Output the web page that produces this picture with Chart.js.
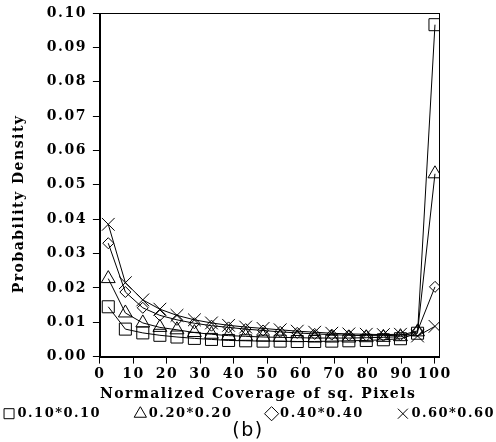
<!DOCTYPE html>
<html>
<head>
<meta charset="utf-8">
<script src="https://cdn.jsdelivr.net/npm/chart.js@4.4.0/dist/chart.umd.min.js"></script>
<style>
  body { margin: 0; background: #fff; }
</style>
</head>
<body>
<canvas id="chart" width="496" height="442"></canvas>
<script>
// normalized coverage positions
const coverage = [2.5, 7.6, 12.8, 17.9, 23.0, 28.2, 33.3, 38.4, 43.5, 48.7,
                  53.8, 58.9, 64.1, 69.2, 74.3, 79.5, 84.6, 89.7, 94.8, 100];

const series010 = [0.0145, 0.0080, 0.0069, 0.0062, 0.0057, 0.0053, 0.0050, 0.0047, 0.0046, 0.0045,
                   0.0045, 0.0044, 0.0044, 0.0045, 0.0046, 0.0047, 0.0049, 0.0052, 0.0068, 0.0966];
const series020 = [0.0227, 0.0127, 0.0098, 0.0085, 0.0078, 0.0070, 0.0065, 0.0061, 0.0059, 0.0057,
                   0.0056, 0.0055, 0.0054, 0.0054, 0.0054, 0.0055, 0.0056, 0.0058, 0.0072, 0.0532];
const series040 = [0.0330, 0.0188, 0.0142, 0.0120, 0.0107, 0.0097, 0.0090, 0.0085, 0.0080, 0.0076,
                   0.0072, 0.0069, 0.0066, 0.0064, 0.0062, 0.0061, 0.0061, 0.0062, 0.0075, 0.0203];
const series060 = [0.0385, 0.0215, 0.0165, 0.0138, 0.0120, 0.0107, 0.0098, 0.0091, 0.0086, 0.0082,
                   0.0078, 0.0074, 0.0071, 0.0068, 0.0066, 0.0065, 0.0064, 0.0065, 0.0060, 0.0088];

const seriesNames = ['0.10*0.10', '0.20*0.20', '0.40*0.40', '0.60*0.60'];
const xTicks = [0, 10, 20, 30, 40, 50, 60, 70, 80, 90, 100];
const yTicks = [0, 0.01, 0.02, 0.03, 0.04, 0.05, 0.06, 0.07, 0.08, 0.09, 0.10];

const serif = 'DejaVu Serif';
const boldFont = {family: serif, size: 14, weight: 'bold'};

function toPoints(values) {
    return values.map((v, i) => ({x: coverage[i], y: v}));
}

function makeSet(label, values, style, radius) {
    return {
        label: label,
        data: toPoints(values),
        showLine: true,
        borderColor: '#000',
        borderWidth: 1,
        backgroundColor: 'rgba(0,0,0,0)',
        pointStyle: style,
        pointRadius: radius,
        pointHoverRadius: radius,
        pointBorderWidth: 1,
        pointBorderColor: '#000',
        pointBackgroundColor: 'rgba(0,0,0,0)',
        tension: 0
    };
}

// the old typeset labels are wide, spread the letters a bit
const spacing = {
    id: 'spacing',
    beforeLayout(chart) { chart.ctx.letterSpacing = '1.5px'; },
    beforeDraw(chart) { chart.ctx.letterSpacing = '1.5px'; }
};

// box around the plot area
const frame = {
    id: 'frame',
    afterDraw(chart) {
        const {ctx, chartArea: a} = chart;
        ctx.save();
        ctx.strokeStyle = '#000';
        ctx.lineWidth = 1;
        ctx.strokeRect(Math.round(a.left) + 0.5, Math.round(a.top) + 0.5,
                       Math.round(a.right - a.left), Math.round(a.bottom - a.top));
        ctx.restore();
    }
};

new Chart(document.getElementById('chart'), {
    type: 'scatter',
    data: {
        datasets: [
            makeSet(seriesNames[0], series010, 'rect', 8.5),
            makeSet(seriesNames[1], series020, 'triangle', 8),
            makeSet(seriesNames[2], series040, 'rectRot', 5.5),
            makeSet(seriesNames[3], series060, 'crossRot', 9)
        ]
    },
    options: {
        responsive: false,
        animation: false,
        layout: {padding: {left: 0, right: 0, top: 12, bottom: 0}},
        plugins: {
            legend: {
                position: 'bottom',
                align: 'end',
                labels: {
                    usePointStyle: true,
                    boxWidth: 4,
                    boxHeight: 10,
                    padding: 1,
                    color: '#000',
                    font: {family: serif, size: 13, weight: 'bold'},
                    // pad the first three entries so the row spreads like the original
                    generateLabels: (chart) => {
                        const items = Chart.defaults.plugins.legend.labels.generateLabels(chart);
                        items.forEach((it, i) => {
                            if (i < items.length - 1) it.text = it.text + '      ';
                        });
                        return items;
                    }
                }
            },
            title: {
                display: true,
                position: 'bottom',
                text: '(b)',
                color: '#000',
                padding: {top: -11, bottom: 0},
                font: {family: 'DejaVu Sans', size: 19, weight: 'normal'}
            },
            tooltip: {enabled: false}
        },
        scales: {
            x: {
                type: 'linear',
                min: 0,
                max: 101.2,
                afterBuildTicks: (axis) => { axis.ticks = xTicks.map(v => ({value: v})); },
                grid: {drawOnChartArea: false, drawTicks: true, tickLength: 7, color: '#000'},
                border: {display: true, color: '#000', width: 1},
                ticks: {
                    color: '#000',
                    autoSkip: false,
                    maxRotation: 0,
                    padding: 2,
                    font: boldFont,
                    callback: (v) => String(v)
                },
                title: {
                    display: true,
                    align: 'start',
                    text: 'Normalized Coverage of sq. Pixels',
                    color: '#000',
                    padding: {top: 2, bottom: 3},
                    font: boldFont
                }
            },
            y: {
                min: 0,
                max: 0.10,
                afterBuildTicks: (axis) => { axis.ticks = yTicks.map(v => ({value: v})); },
                grid: {drawOnChartArea: false, drawTicks: true, tickLength: 7, color: '#000'},
                border: {display: true, color: '#000', width: 1},
                ticks: {
                    color: '#000',
                    autoSkip: false,
                    padding: 6,
                    font: {family: serif, size: 14, weight: 'bold', lineHeight: 1},
                    callback: (v) => v.toFixed(2)
                },
                title: {
                    display: true,
                    text: 'Probability Density      ',
                    color: '#000',
                    padding: {top: 11, bottom: 13},
                    font: boldFont
                }
            },
            yRight: {
                position: 'right',
                display: true,
                min: 0,
                max: 1,
                grid: {display: false},
                border: {display: false},
                ticks: {display: false},
                afterFit: (axis) => { axis.width = 57; }
            }
        }
    },
    plugins: [spacing, frame]
});
</script>
</body>
</html>
